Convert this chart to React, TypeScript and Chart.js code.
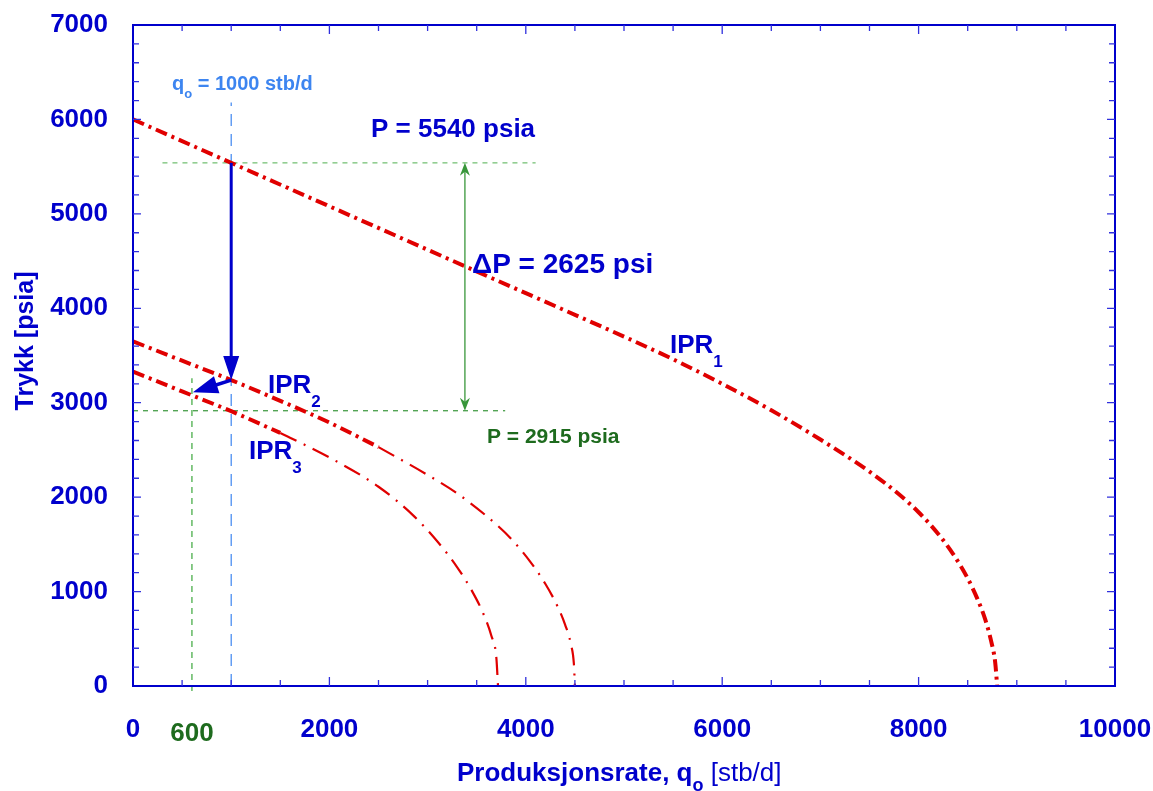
import React, { useEffect, useRef } from 'react';
import { Chart, registerables } from 'chart.js';
Chart.register(...registerables);

// ---- data ----
const ipr1Rate = [0, 1000, 2000, 3000, 4000, 5000, 5500, 6000, 6500, 7000, 7500, 7800, 8000, 8200, 8350, 8500, 8600, 8680, 8740, 8780, 8800];
const ipr1Pressure = [6000, 5540, 5080, 4620, 4160, 3700, 3460, 3200, 2920, 2610, 2270, 2030, 1840, 1610, 1400, 1140, 920, 700, 470, 250, 0];

const ipr2Rate = [0, 500, 1000, 1500, 2000, 2500, 3000, 3300, 3600, 3850, 4050, 4200, 4320, 4400, 4460, 4490, 4500];
const ipr2Pressure = [3650, 3445, 3240, 3020, 2790, 2530, 2235, 2040, 1800, 1560, 1310, 1080, 850, 650, 440, 230, 0];
const ipr2ThickEnd = 2500;

const ipr3Rate = [0, 500, 1000, 1500, 2000, 2500, 2850, 3100, 3300, 3450, 3570, 3650, 3700, 3717];
const ipr3Pressure = [3330, 3120, 2910, 2680, 2420, 2110, 1810, 1530, 1260, 1010, 760, 530, 300, 0];
const ipr3ThickEnd = 1500;

const xTickValues = [0, 2000, 4000, 6000, 8000, 10000];
const yTickValues = [0, 1000, 2000, 3000, 4000, 5000, 6000, 7000];

const qOperating = 1000;
const qNew = 600;
const pWellhead = 5540;
const pBottom = 2915;
const deltaP = 2625;
const pIpr2AtQ = 3240;
const pIpr3AtQnew = 3110;
const deltaArrowQ = 3380;

// ---- styles ----
const BLUE = '#0000cc';
const RED = '#e00000';
const GREEN_DARK = '#1e6b1e';
const GREEN_LINE = '#38963a';
const GREEN_LIGHT = '#6cbd6c';
const LIGHT_BLUE = '#3d85f0';
const FAM = '"Liberation Sans", Arial, sans-serif';

const toPts = (qs: number[], ps: number[]) => qs.map((q, i) => ({ x: q, y: ps[i] }));
const THICK = { borderColor: RED, borderWidth: 4, borderDash: [12, 5, 3, 5], pointRadius: 0, cubicInterpolationMode: 'monotone' as const, fill: false };
const THIN = { borderColor: RED, borderWidth: 2.2, borderDash: [18, 8, 2, 8], pointRadius: 0, cubicInterpolationMode: 'monotone' as const, fill: false };

function dashLine(ctx: CanvasRenderingContext2D, x1: number, y1: number, x2: number, y2: number, color: string, w: number, dash: number[]) {
  ctx.save();
  ctx.strokeStyle = color;
  ctx.lineWidth = w;
  ctx.setLineDash(dash);
  ctx.beginPath();
  ctx.moveTo(x1, y1);
  ctx.lineTo(x2, y2);
  ctx.stroke();
  ctx.restore();
}

function arrowHead(ctx: CanvasRenderingContext2D, fx: number, fy: number, tx: number, ty: number, len: number, half: number, notch: number, color: string) {
  const a = Math.atan2(ty - fy, tx - fx);
  const cos = Math.cos(a), sin = Math.sin(a);
  const bx = tx - len * cos, by = ty - len * sin;
  ctx.save();
  ctx.fillStyle = color;
  ctx.beginPath();
  ctx.moveTo(tx, ty);
  ctx.lineTo(bx - half * sin, by + half * cos);
  ctx.lineTo(tx - (len - notch) * cos, ty - (len - notch) * sin);
  ctx.lineTo(bx + half * sin, by - half * cos);
  ctx.closePath();
  ctx.fill();
  ctx.restore();
}

type Part = { t: string; font: string; dy?: number };
function rich(ctx: CanvasRenderingContext2D, parts: Part[], x: number, y: number, color: string) {
  ctx.save();
  ctx.fillStyle = color;
  ctx.textAlign = 'left';
  ctx.textBaseline = 'alphabetic';
  let cx = x;
  for (const p of parts) {
    ctx.font = p.font;
    ctx.fillText(p.t, cx, y + (p.dy || 0));
    cx += ctx.measureText(p.t).width;
  }
  ctx.restore();
}

const annotPlugin = {
  id: 'annot',
  beforeDatasetsDraw(chart: any) {
    const { ctx, scales } = chart;
    const X = (v: number) => scales.x.getPixelForValue(v);
    const Y = (v: number) => scales.y.getPixelForValue(v);
    dashLine(ctx, X(300), Y(pWellhead), X(4100), Y(pWellhead), GREEN_LIGHT, 1.2, [5, 5]);
    dashLine(ctx, X(0), Y(pBottom), X(3790), Y(pBottom), GREEN_LINE, 1.2, [5, 5]);
    dashLine(ctx, X(qNew), Y(0) + 5, X(qNew), Y(3260), GREEN_LIGHT, 1.6, [6, 5]);
    dashLine(ctx, X(qOperating), Y(0), X(qOperating), Y(6180), LIGHT_BLUE, 1.2, [12, 8]);
  },
  afterDatasetsDraw(chart: any) {
    const { ctx, scales, chartArea: ca } = chart;
    const X = (v: number) => scales.x.getPixelForValue(v);
    const Y = (v: number) => scales.y.getPixelForValue(v);

    // frame
    ctx.save();
    ctx.strokeStyle = BLUE;
    ctx.lineWidth = 2;
    ctx.strokeRect(ca.left, ca.top, ca.right - ca.left, ca.bottom - ca.top);
    // ticks
    ctx.strokeStyle = '#3030dd';
    ctx.lineWidth = 1.3;
    ctx.beginPath();
    for (let v = 500; v < 10000; v += 500) {
      const len = v % 2000 === 0 ? 9 : 6;
      const px = X(v);
      ctx.moveTo(px, ca.bottom); ctx.lineTo(px, ca.bottom - len);
      ctx.moveTo(px, ca.top); ctx.lineTo(px, ca.top + len);
    }
    for (let v = 200; v < 7000; v += 200) {
      const len = v % 1000 === 0 ? 8 : 6;
      const py = Y(v);
      ctx.moveTo(ca.left, py); ctx.lineTo(ca.left + len, py);
      ctx.moveTo(ca.right, py); ctx.lineTo(ca.right - len, py);
    }
    ctx.stroke();
    ctx.restore();

    // blue arrows
    ctx.save();
    ctx.strokeStyle = BLUE;
    ctx.lineWidth = 3;
    ctx.beginPath();
    ctx.moveTo(X(qOperating), Y(pWellhead));
    ctx.lineTo(X(qOperating), Y(pIpr2AtQ) - 20);
    ctx.stroke();
    arrowHead(ctx, X(qOperating), Y(pWellhead), X(qOperating), Y(pIpr2AtQ), 24, 8, 0, BLUE);
    const sx = X(qOperating), sy = Y(pIpr2AtQ), ex = X(qNew + 10), ey = Y(pIpr3AtQnew);
    const ang = Math.atan2(ey - sy, ex - sx);
    ctx.lineWidth = 3.5;
    ctx.beginPath();
    ctx.moveTo(sx, sy);
    ctx.lineTo(ex - 20 * Math.cos(ang), ey - 20 * Math.sin(ang));
    ctx.stroke();
    arrowHead(ctx, sx, sy, ex, ey, 25, 9, 0, BLUE);
    ctx.restore();

    // green double arrow
    ctx.save();
    ctx.strokeStyle = GREEN_LINE;
    ctx.lineWidth = 1.3;
    ctx.beginPath();
    ctx.moveTo(X(deltaArrowQ), Y(pWellhead) + 6);
    ctx.lineTo(X(deltaArrowQ), Y(pBottom) - 6);
    ctx.stroke();
    arrowHead(ctx, X(deltaArrowQ), Y(pBottom), X(deltaArrowQ), Y(pWellhead), 13, 5, 4, GREEN_LINE);
    arrowHead(ctx, X(deltaArrowQ), Y(pWellhead), X(deltaArrowQ), Y(pBottom), 13, 5, 4, GREEN_LINE);
    ctx.restore();

    // texts
    rich(ctx, [
      { t: 'q', font: `bold 20px ${FAM}` },
      { t: 'o', font: `bold 13px ${FAM}`, dy: 8 },
      { t: ` = ${qOperating} stb/d`, font: `bold 20px ${FAM}` },
    ], 172, 90, LIGHT_BLUE);
    rich(ctx, [{ t: `P = ${pWellhead} psia`, font: `bold 26px ${FAM}` }], 371, 137, BLUE);
    rich(ctx, [{ t: `\u0394P = ${deltaP} psi`, font: `bold 28px ${FAM}` }], 472, 273, BLUE);
    rich(ctx, [{ t: `P = ${pBottom} psia`, font: `bold 21px ${FAM}` }], 487, 443, GREEN_DARK);
    const ipr = (n: string, x: number, y: number) =>
      rich(ctx, [
        { t: 'IPR', font: `bold 26px ${FAM}` },
        { t: n, font: `bold 17px ${FAM}`, dy: 14 },
      ], x, y, BLUE);
    ipr('1', 670, 353);
    ipr('2', 268, 393);
    ipr('3', 249, 459);

    // green 600 label
    ctx.save();
    ctx.fillStyle = GREEN_DARK;
    ctx.font = `bold 26px ${FAM}`;
    ctx.textAlign = 'center';
    ctx.textBaseline = 'alphabetic';
    ctx.fillText(String(qNew), X(qNew), 741);
    ctx.restore();

    // axis titles
    ctx.save();
    ctx.translate(26, 341);
    ctx.rotate(-Math.PI / 2);
    ctx.fillStyle = BLUE;
    ctx.font = `bold 25px ${FAM}`;
    ctx.textAlign = 'center';
    ctx.textBaseline = 'middle';
    ctx.fillText('Trykk [psia]', 0, 0);
    ctx.restore();
    rich(ctx, [
      { t: 'Produksjonsrate, q', font: `bold 26px ${FAM}` },
      { t: 'o', font: `bold 18px ${FAM}`, dy: 10 },
      { t: ' [stb/d]', font: `26px ${FAM}` },
    ], 457, 781, BLUE);
  },
};

export default function App() {
  const ref = useRef<HTMLCanvasElement>(null);
  useEffect(() => {
    document.body.style.margin = '0';
    const canvas = ref.current!;
    const ipr2 = toPts(ipr2Rate, ipr2Pressure);
    const ipr3 = toPts(ipr3Rate, ipr3Pressure);
    const chart = new Chart(canvas, {
      type: 'line',
      data: {
        datasets: [
          { ...THICK, data: toPts(ipr1Rate, ipr1Pressure) },
          { ...THICK, data: ipr2.filter((p) => p.x <= ipr2ThickEnd) },
          { ...THIN, data: ipr2.filter((p) => p.x >= ipr2ThickEnd) },
          { ...THICK, data: ipr3.filter((p) => p.x <= ipr3ThickEnd) },
          { ...THIN, data: ipr3.filter((p) => p.x >= ipr3ThickEnd) },
        ] as any,
      },
      options: {
        animation: false,
        responsive: false,
        devicePixelRatio: 1,
        layout: { padding: { top: 25, right: 38, left: 0, bottom: 0 } },
        plugins: { legend: { display: false }, tooltip: { enabled: false } },
        scales: {
          x: {
            type: 'linear',
            min: 0,
            max: 10000,
            afterBuildTicks: (s: any) => { s.ticks = xTickValues.map((v) => ({ value: v })); },
            afterFit: (s: any) => { s.height = 105; s.paddingLeft = 0; s.paddingRight = 0; },
            grid: { display: false, drawTicks: false },
            border: { display: false },
            ticks: { color: BLUE, font: { family: FAM, size: 26, weight: 'bold' }, padding: 28, maxRotation: 0, autoSkip: false, callback: (v: any) => String(v) },
          },
          y: {
            type: 'linear',
            min: 0,
            max: 7000,
            afterBuildTicks: (s: any) => { s.ticks = yTickValues.map((v) => ({ value: v })); },
            afterFit: (s: any) => { s.width = 133; s.paddingTop = 0; s.paddingBottom = 0; },
            grid: { display: false, drawTicks: false },
            border: { display: false },
            ticks: { color: BLUE, font: { family: FAM, size: 26, weight: 'bold' }, padding: 25, autoSkip: false, callback: (v: any) => String(v) },
          },
        },
      } as any,
      plugins: [annotPlugin],
    });
    return () => chart.destroy();
  }, []);
  return (
    <canvas ref={ref} width={1153} height={791} style={{ display: 'block', width: 1153, height: 791, background: '#fff' }} />
  );
}
